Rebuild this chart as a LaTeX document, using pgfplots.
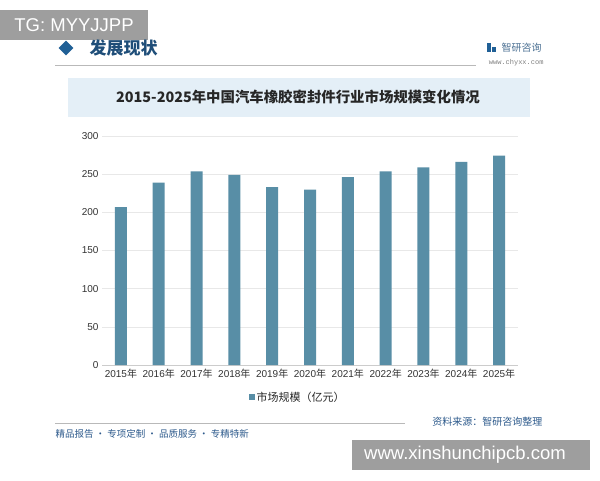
\documentclass[border=0pt]{standalone}
\usepackage{fontspec}
\setmainfont{Liberation Sans}
\newfontfamily\cjk{Noto Sans CJK SC}
\newfontfamily\mono{Liberation Mono}
\usepackage{pgfplots}
\pgfplotsset{compat=1.18}
\usetikzlibrary{shapes.geometric}
\definecolor{barcol}{RGB}{88,142,166}
\definecolor{bannerc}{RGB}{228,239,247}
\definecolor{headblue}{RGB}{31,78,121}
\definecolor{diamc}{RGB}{32,96,150}
\definecolor{footblue}{RGB}{45,90,140}
\definecolor{tgray}{RGB}{158,158,158}
\begin{document}
\begin{tikzpicture}[x=1pt,y=1pt]
\path[use as bounding box, fill=white] (0,0) rectangle (600,480);
% header
\fill[tgray] (0,440) rectangle (148,470);
\node[text=white, font=\fontsize{18.5}{20}\selectfont] at (74,455) {TG: MYYJJPP};
\node[diamond, fill=diamc, minimum width=15pt, minimum height=15pt, inner sep=0pt] at (66,432) {};
\node[anchor=west, text=headblue, font=\cjk\bfseries\fontsize{17}{19}\selectfont] at (86,432) {发展现状};
\draw[gray!55, line width=0.8pt] (55,415) -- (476,415);
\fill[diamc] (487,428) rectangle (491,437);
\fill[diamc] (492,428) rectangle (496,433);
\node[anchor=west, text=headblue!80, font=\cjk\fontsize{10}{12}\selectfont] at (498,432) {智研咨询};
\node[anchor=east, text=gray, font=\mono\fontsize{7}{8}\selectfont] at (547,417) {www.chyxx.com};
% title banner
\fill[bannerc] (68,363) rectangle (530,402);
\node[text=black!85, font=\cjk\bfseries\fontsize{14.4}{16}\selectfont] at (298,383) {2015-2025年中国汽车橡胶密封件行业市场规模变化情况};
% chart
\begin{axis}[
  at={(102pt,115pt)}, anchor=south west,
  scale only axis, width=416pt, height=229pt,
  xmin=-0.5, xmax=10.5, ymin=0, ymax=300,
  ytick={0,50,...,300},
  xtick=data,
  xticklabels={2015{\cjk 年},2016{\cjk 年},2017{\cjk 年},2018{\cjk 年},2019{\cjk 年},2020{\cjk 年},2021{\cjk 年},2022{\cjk 年},2023{\cjk 年},2024{\cjk 年},2025{\cjk 年}},
  /pgf/number format/assume math mode=true,
  ticklabel style={font=\fontsize{10}{12}\selectfont, text=black!80},
  ymajorgrids, grid style={gray!18, line width=0.6pt},
  axis x line*=bottom, axis y line*=left,
  x axis line style={gray!40, line width=0.7pt, -},
  y axis line style={draw=none},
  tick style={draw=none},
  xticklabel style={yshift=-1pt},
  legend style={at={(0.471,-0.14)}, anchor=center, draw=none, fill=none,
    font=\cjk\fontsize{11}{13}\selectfont, text=black!85},
  legend image code/.code={\fill[barcol] (0pt,-2.8pt) rectangle (5.6pt,2.8pt);},
]
\addplot[ybar, bar width=12pt, fill=barcol, draw=none] coordinates {
(0,206.7) (1,239) (2,253.8) (3,249) (4,232.9) (5,229.8) (6,246) (7,253.8) (8,259) (9,266) (10,274.3)};
\addlegendentry{市场规模（亿元）}
\end{axis}
% footer
\draw[gray!55, line width=0.8pt] (55,57) -- (405,57);
\node[anchor=east, text=footblue, font=\cjk\fontsize{10}{12}\selectfont] at (546,58) {资料来源：智研咨询整理};
\node[anchor=west, text=footblue, font=\cjk\fontsize{9.5}{11}\selectfont] at (52,46) {精品报告 · 专项定制 · 品质服务 · 专精特新};
\fill[tgray] (352,10) rectangle (590,40);
\node[text=white, font=\fontsize{18.5}{20}\selectfont] at (465,25) {www.xinshunchipcb.com};
\end{tikzpicture}
\end{document}
